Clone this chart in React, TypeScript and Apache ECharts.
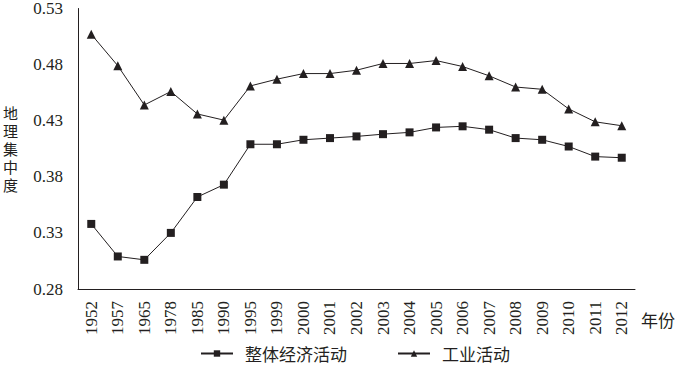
import React, { useEffect, useRef } from "react";
import * as echarts from "echarts";

const years = ["1952","1957","1965","1978","1985","1990","1995","1999","2000","2001","2002","2003","2004","2005","2006","2007","2008","2009","2010","2011","2012"];
const overall = [0.338,0.309,0.306,0.330,0.362,0.373,0.409,0.409,0.413,0.4145,0.416,0.418,0.4196,0.424,0.425,0.422,0.4145,0.413,0.407,0.398,0.397];
const industry = [0.507,0.479,0.444,0.456,0.436,0.4305,0.461,0.467,0.472,0.472,0.475,0.481,0.481,0.4836,0.4783,0.470,0.460,0.458,0.4405,0.429,0.4255];
const yTicks = { min: 0.28, max: 0.53, interval: 0.05 };
const seriesNames = ["整体经济活动", "工业活动"];

const serif = "'Liberation Serif', 'Times New Roman', serif";
const cjk = "'Noto Sans CJK SC', sans-serif";
const ink = "#231f20";

export default function App() {
  const ref = useRef<HTMLDivElement>(null);
  useEffect(() => {
    const chart = echarts.init(ref.current!, null, { renderer: "svg" });
    chart.setOption({
      animation: false,
      grid: { left: 77, right: 42, top: 6, bottom: 77, containLabel: false },
      legend: {
        left: 195,
        top: 340,
        itemWidth: 32,
        itemHeight: 8,
        itemGap: 50,
        textStyle: { fontFamily: cjk, fontSize: 17, color: ink, padding: [0, 0, 0, 7] },
        data: seriesNames,
      },
      xAxis: {
        type: "category",
        data: years,
        boundaryGap: true,
        axisLine: { lineStyle: { color: ink, width: 1 } },
        axisTick: { inside: true, length: 4, lineStyle: { color: ink } },
        axisLabel: { rotate: 90, margin: 12, fontFamily: serif, fontSize: 17, color: ink },
        name: "年份",
        nameLocation: "end",
        nameGap: 6,
        nameTextStyle: { fontFamily: cjk, fontSize: 17, color: ink, verticalAlign: "top", align: "left", padding: [22, 0, 0, 0] },
      },
      yAxis: {
        type: "value",
        min: yTicks.min,
        max: yTicks.max,
        interval: yTicks.interval,
        splitLine: { show: false },
        axisLine: { show: true, lineStyle: { color: ink, width: 1 } },
        axisTick: { show: false },
        axisLabel: { margin: 15, fontFamily: serif, fontSize: 17, color: ink, formatter: (v: number) => v.toFixed(2) },
        name: "地\n理\n集\n中\n度",
        nameLocation: "middle",
        nameRotate: 0,
        nameGap: 60,
        nameTextStyle: { fontFamily: cjk, fontSize: 15, lineHeight: 18, color: ink },
      },
      series: [
        {
          name: seriesNames[0],
          type: "line",
          data: overall,
          symbol: "rect",
          symbolSize: 8,
          itemStyle: { color: ink },
          lineStyle: { color: ink, width: 1 },
        },
        {
          name: seriesNames[1],
          type: "line",
          data: industry,
          symbol: "triangle",
          symbolSize: 9,
          itemStyle: { color: ink },
          lineStyle: { color: ink, width: 1 },
        },
      ],
    });
    return () => chart.dispose();
  }, []);
  return <div ref={ref} style={{ width: 678, height: 366, position: "absolute", left: 0, top: 0 }} />;
}
